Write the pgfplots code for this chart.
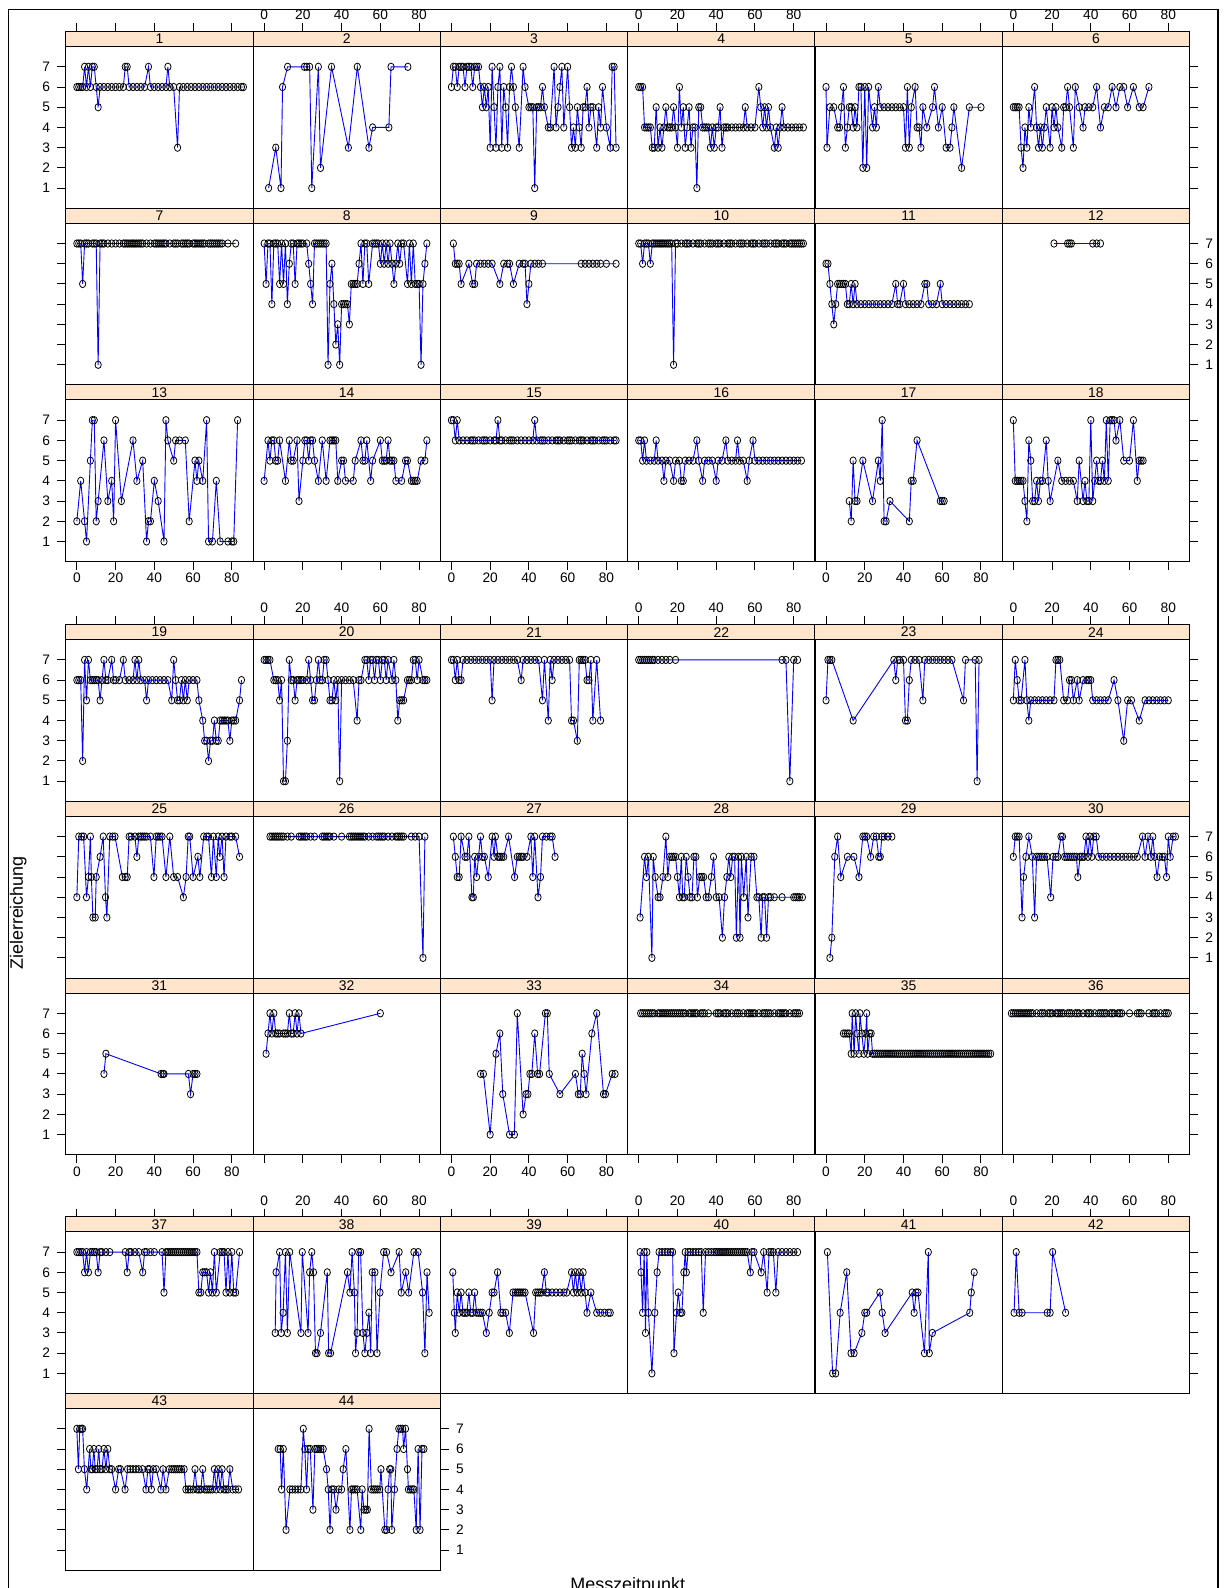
\documentclass[border=0pt]{standalone}
\usepackage{fontspec}
\setmainfont{Liberation Sans}
\usepackage{pgfplots}
\pgfplotsset{compat=1.18}
\definecolor{stripcol}{HTML}{FFE5CC}
\newcommand{\tickfont}{\fontsize{6.9}{7}\selectfont}
\newcommand{\stripfont}{\fontsize{7}{7}\selectfont}
\pgfplotsset{
 panelstyle/.style={
  scale only axis, width=93.65bp, height=88.35bp, anchor=north west,
  xmin=-5.7, xmax=91, ymin=0, ymax=8.742,
  axis on top, tick align=outside, major tick length=4.15bp,
  xtick=\empty, ytick=\empty,
  axis line style={line width=0.5bp},
  tick style={black, line width=0.5bp},
  tick label style={font=\tickfont},
  /pgf/number format/assume math mode=true,
  yticklabel style={inner xsep=3.5bp},
  xticklabel style={inner ysep=1.5bp},
 },
 xtop/.style={xtick={0,20,40,60,80}, xtick pos=right, xticklabel pos=right},
 xtopnl/.style={xtop, xticklabels={,,,,}},
 xbot/.style={xtick={0,20,40,60,80}, xtick pos=left, xticklabel pos=left},
 xbotnl/.style={xbot, xticklabels={,,,,}},
 yl/.style={ytick={1,2,3,4,5,6,7}, ytick pos=left, yticklabel pos=left},
 ylnl/.style={yl, yticklabels={,,,,,,}},
 yr/.style={ytick={1,2,3,4,5,6,7}, ytick pos=right, yticklabel pos=right},
 yrnl/.style={yr, yticklabels={,,,,,,}},
}
\newcommand{\panel}[5]{%
\begin{axis}[panelstyle, at={(#1*0.5bp,-#2*0.5bp)}, #4]
\addplot[color=blue, line width=0.45bp, mark=o, mark size=1.85bp, mark options={draw=black, line width=0.4bp, xscale=0.85, solid}] coordinates {#5};
\draw[fill=stripcol, line width=0.5bp] (axis cs:-5.7,8) rectangle (axis cs:91,8.742);
\node[font=\stripfont, inner sep=0pt] at (axis cs:42.65,8.371) {#3};
\end{axis}}
\begin{document}
\begin{tikzpicture}
\useasboundingbox (0,0) rectangle (612bp,-794bp);
\draw[line width=0.7bp] (8.3*0.5bp,-1620*0.5bp) -- (8.3*0.5bp,-9.3*0.5bp) -- (1218*0.5bp,-9.3*0.5bp) -- (1218*0.5bp,-1620*0.5bp);
\node[rotate=90, font=\fontsize{9}{10}\selectfont] at (18.2*0.5bp,-913*0.5bp) {Zielerreichung};
\node[anchor=north, inner sep=0pt, font=\fontsize{9}{10}\selectfont] at (627.7*0.5bp,-1577*0.5bp) {Messzeitpunkt};
% ---------- Row 1
\panel{65.8}{31.6}{1}{xtopnl,yl}{(0,6)(1,6)(2,6)(3,6)(4,7)(5,6)(6,7)(7,6)(8,7)(9,7)(10,6)(11,5)(12,6)(14,6)(16,6)(18,6)(20,6)(22,6)(24,6)(25,7)(26,7)(27,6)(29,6)(31,6)(33,6)(35,6)(37,7)(38,6)(40,6)(42,6)(44,6)(46,6)(47,7)(48,6)(50,6)(52,3)(53,6)(55,6)(57,6)(59,6)(61,6)(63,6)(65,6)(67,6)(69,6)(71,6)(73,6)(75,6)(77,6)(79,6)(81,6)(83,6)(85,6)(86,6)}
\panel{253.1}{31.6}{2}{xtop}{(2.3,1)(6,3)(8.7,1)(9.5,6)(12.1,7)(20.8,7)(22,7)(23.5,7)(24.6,1)(28,7)(29.1,2)(34.8,7)(43.5,3)(48.1,7)(54.1,3)(56,4)(64.4,4)(65.5,7)(74.2,7)}
\panel{440.4}{31.6}{3}{xtopnl}{(0,6)(1,7)(2,7)(3,6)(4,7)(5,7)(6,7)(7,6)(8,7)(9,7)(10,7)(11,6)(12,7)(13,7)(14,7)(15,6)(16,5)(17,6)(18,5)(19,6)(20,3)(21,7)(22,5)(23,3)(24,6)(25,7)(26,3)(27,6)(28,5)(29,3)(30,6)(31,7)(32,6)(33,5)(35,3)(37,7)(38,6)(40,5)(41,5)(42,5)(43,1)(44,5)(45,5)(46,5)(47,6)(48,5)(50,4)(51,4)(53,7)(54,4)(55,5)(56,6)(57,7)(58,4)(60,7)(61,5)(62,3)(63,4)(64,3)(65,5)(66,4)(67,3)(68,5)(69,5)(70,6)(71,4)(72,5)(73,5)(75,3)(76,5)(77,4)(78,6)(80,4)(82,3)(83,7)(84,7)(85,3)}
\panel{627.7}{31.6}{4}{xtop}{(0,6)(1,6)(2,6)(3,4)(4,4)(5,4)(6,4)(7,3)(8,3)(9,5)(10,3)(11,4)(12,3)(13,4)(14,5)(15,4)(16,4)(17,4)(18,5)(19,4)(20,3)(21,6)(22,4)(23,5)(24,3)(25,4)(26,5)(27,3)(28,4)(29,4)(30,1)(31,5)(32,5)(33,4)(34,4)(35,4)(36,4)(37,3)(38,4)(39,3)(40,4)(41,4)(42,5)(43,3)(44,4)(45,4)(46,4)(48,4)(50,4)(52,4)(54,4)(55,5)(56,4)(58,4)(60,4)(62,6)(63,5)(64,4)(65,5)(66,4)(67,5)(68,4)(70,3)(71,4)(72,3)(73,4)(74,5)(75,4)(77,4)(79,4)(81,4)(83,4)(85,4)}
\panel{815.0}{31.6}{5}{xtopnl}{(0,6)(0.5,3)(2,5)(4,5)(6,4)(7,4)(8,5)(9,6)(10,3)(11,4)(12,5)(13,5)(14,4)(15,5)(16,4)(17,6)(18,6)(19,2)(20,6)(21,2)(22,6)(24,4)(25,5)(26,4)(27,6)(28,5)(30,5)(32,5)(34,5)(36,5)(38,5)(40,5)(41,3)(42,6)(43,3)(44,5)(46,6)(47,4)(48,4)(49,3)(50,5)(52,4)(55,5)(56,6)(58,4)(60,5)(62,3)(64,3)(65,4)(66,5)(70,2)(74,5)(80,5)}
\panel{1002.3}{31.6}{6}{xtop,yrnl}{(0,5)(1,5)(2,5)(3,5)(4,3)(5,2)(6,4)(7,3)(8,5)(9,4)(11,6)(12,4)(13,3)(14,4)(15,3)(16,4)(17,5)(19,3)(20,5)(21,4)(22,5)(23,4)(25,3)(26,5)(27,5)(28,6)(29,5)(31,3)(32,6)(34,5)(36,4)(37,5)(39,5)(41,5)(43,6)(45,4)(47,5)(49,5)(51,6)(53,5)(55,6)(57,6)(59,5)(62,6)(65,5)(67,5)(70,6)}
% ---------- Row 2
\panel{65.8}{208.3}{7}{ylnl}{(0,7)(1,7)(2,7)(3,5)(4,7)(5,7)(6,7)(8,7)(9,7)(10,7)(11,1)(12,7)(13,7)(14,7)(16,7)(18,7)(20,7)(22,7)(24,7)(25,7)(26,7)(27,7)(28,7)(29,7)(30,7)(31,7)(32,7)(33,7)(34,7)(36,7)(38,7)(40,7)(41,7)(42,7)(43,7)(44,7)(45,7)(46,7)(48,7)(50,7)(51,7)(52,7)(54,7)(55,7)(56,7)(57,7)(58,7)(60,7)(61,7)(62,7)(63,7)(64,7)(65,7)(66,7)(68,7)(69,7)(70,7)(71,7)(72,7)(73,7)(74,7)(75,7)(78,7)(82,7)}
\panel{253.1}{208.3}{8}{}{(0,7)(1,5)(2,7)(3,7)(4,4)(5,7)(6,7)(7,7)(8,5)(9,7)(10,5)(11,7)(12,4)(13,6)(14,7)(15,7)(16,5)(17,7)(18,7)(19,7)(20,7)(22,7)(23,6)(24,5)(25,4)(26,7)(27,7)(28,7)(29,7)(30,7)(31,7)(32,7)(33,1)(34,5)(35,6)(36,4)(37,2)(38,3)(39,1)(40,4)(41,4)(42,4)(43,4)(44,3)(45,5)(46,5)(47,5)(48,5)(49,6)(50,7)(51,5)(52,7)(53,7)(54,5)(56,7)(57,7)(58,7)(59,7)(60,6)(61,7)(62,6)(63,7)(64,6)(65,7)(66,6)(67,5)(68,6)(69,7)(70,6)(71,7)(72,7)(74,5)(75,7)(76,5)(77,7)(78,5)(79,5)(80,5)(81,1)(82,5)(83,6)(84,7)}
\panel{440.4}{208.3}{9}{}{(1,7)(2,6)(3,6)(4,6)(5,5)(9,6)(11,5)(12,5)(13,6)(15,6)(17,6)(19,6)(21,6)(25,5)(27,6)(29,6)(30,6)(32,5)(35,6)(37,6)(38,6)(39,4)(40,5)(41,6)(43,6)(45,6)(47,6)(67,6)(69,6)(71,6)(73,6)(75,6)(77,6)(80,6)(85,6)}
\panel{627.7}{208.3}{10}{}{(0,7)(1,7)(2,6)(3,7)(4,7)(5,7)(6,6)(7,7)(8,7)(9,7)(10,7)(11,7)(12,7)(13,7)(14,7)(15,7)(16,7)(17,7)(18,1)(19,7)(20,7)(22,7)(24,7)(25,7)(26,7)(28,7)(30,7)(31,7)(32,7)(34,7)(36,7)(37,7)(38,7)(40,7)(41,7)(42,7)(44,7)(46,7)(47,7)(48,7)(50,7)(52,7)(53,7)(54,7)(56,7)(58,7)(59,7)(60,7)(62,7)(64,7)(65,7)(66,7)(68,7)(70,7)(71,7)(72,7)(74,7)(75,7)(76,7)(78,7)(79,7)(80,7)(81,7)(82,7)(83,7)(84,7)(85,7)}
\panel{815.0}{208.3}{11}{}{(0,6)(1,6)(2,5)(3,4)(4,3)(5,4)(6,5)(7,5)(8,5)(9,5)(10,5)(11,4)(12,4)(13,5)(14,4)(15,5)(16,4)(18,4)(20,4)(22,4)(24,4)(26,4)(28,4)(30,4)(32,4)(34,4)(36,5)(37,4)(38,4)(40,5)(41,4)(43,4)(45,4)(47,4)(49,4)(51,5)(52,5)(53,4)(55,4)(57,4)(59,5)(60,4)(62,4)(64,4)(66,4)(68,4)(70,4)(72,4)(74,4)}
\panel{1002.3}{208.3}{12}{yr}{(21,7)(28,7)(29,7)(30,7)(41,7)(43,7)(45,7)}
% ---------- Row 3
\panel{65.8}{385.0}{13}{xbot,yl}{(0,2)(2,4)(4,2)(5,1)(7,5)(8,7)(9,7)(10,2)(11,3)(14,6)(16,3)(18,4)(19,2)(20,7)(23,3)(29,6)(31,4)(34,5)(36,1)(37,2)(38,2)(40,4)(42,3)(45,1)(46,7)(47,6)(50,5)(51,6)(53,6)(56,6)(58,2)(61,5)(62,4)(63,5)(65,4)(67,7)(68,1)(70,1)(72,4)(74,1)(78,1)(80,1)(81,1)(83,7)}
\panel{253.1}{385.0}{14}{xbotnl}{(0,4)(2,6)(3,5)(4,6)(5,6)(6,5)(7,5)(8,6)(11,4)(13,6)(14,5)(15,5)(17,6)(18,3)(20,5)(21,6)(22,6)(23,5)(24,6)(25,6)(26,5)(28,4)(30,6)(32,4)(34,6)(35,6)(36,6)(37,6)(38,4)(40,5)(41,5)(42,4)(46,4)(47,5)(50,6)(51,5)(52,5)(53,6)(55,4)(56,5)(60,6)(61,5)(62,5)(63,5)(64,6)(65,5)(66,5)(67,5)(68,4)(71,4)(73,5)(74,5)(76,4)(77,4)(78,4)(79,4)(81,5)(83,5)(84,6)}
\panel{440.4}{385.0}{15}{xbot}{(0,7)(1,7)(2,6)(3,7)(4,6)(6,6)(8,6)(10,6)(11,6)(12,6)(14,6)(16,6)(17,6)(18,6)(20,6)(22,6)(23,6)(24,7)(25,6)(26,6)(28,6)(30,6)(31,6)(32,6)(34,6)(36,6)(38,6)(40,6)(42,6)(43,7)(44,6)(46,6)(47,6)(48,6)(50,6)(52,6)(54,6)(55,6)(56,6)(58,6)(60,6)(61,6)(62,6)(64,6)(66,6)(67,6)(68,6)(70,6)(72,6)(73,6)(74,6)(76,6)(78,6)(79,6)(80,6)(82,6)(84,6)(85,6)}
\panel{627.7}{385.0}{16}{xbotnl}{(0,6)(1,6)(2,5)(3,6)(4,5)(6,5)(8,5)(9,6)(10,5)(12,5)(13,4)(14,5)(16,5)(18,4)(19,5)(21,5)(22,4)(23,4)(24,5)(26,5)(28,5)(30,6)(31,5)(33,4)(34,5)(36,5)(38,5)(40,4)(41,5)(43,5)(45,6)(46,5)(48,5)(50,5)(51,6)(52,5)(54,5)(56,4)(57,5)(59,6)(60,5)(62,5)(64,5)(66,5)(68,5)(70,5)(72,5)(74,5)(76,5)(78,5)(80,5)(82,5)(84,5)}
\panel{815.0}{385.0}{17}{xbot}{(12,3)(13,2)(14,5)(15,3)(16,3)(19,5)(24,3)(27,5)(28,4)(29,7)(30,2)(31,2)(33,3)(43,2)(44,4)(45,4)(47,6)(59,3)(60,3)(61,3)}
\panel{1002.3}{385.0}{18}{xbotnl,yrnl}{(0,7)(1,4)(2,4)(3,4)(4,4)(5,4)(6,3)(7,2)(8,6)(9,5)(10,3)(11,3)(12,4)(13,3)(14,4)(15,4)(17,6)(18,4)(19,3)(23,5)(25,4)(27,4)(29,4)(31,4)(33,3)(34,5)(36,3)(37,4)(38,3)(39,3)(40,7)(41,3)(42,4)(43,5)(44,4)(45,4)(46,5)(47,4)(48,7)(49,4)(50,7)(51,7)(52,7)(53,6)(55,7)(57,5)(60,5)(62,7)(64,4)(65,5)(66,5)(67,5)}
% ---------- Row 4
\panel{65.8}{624.7}{19}{xtopnl,yl}{(0,6)(1,6)(2,6)(3,2)(4,7)(5,5)(6,7)(7,6)(8,6)(9,6)(10,6)(11,6)(12,5)(13,6)(14,7)(15,6)(16,6)(18,7)(19,6)(20,6)(22,6)(24,7)(25,6)(27,6)(29,6)(30,7)(31,6)(32,7)(33,6)(35,6)(36,5)(37,6)(39,6)(41,6)(43,6)(45,6)(47,6)(49,5)(50,7)(51,6)(52,5)(53,5)(54,6)(55,5)(56,6)(57,5)(58,6)(60,6)(62,6)(63,5)(65,4)(66,3)(67,3)(68,2)(69,3)(70,3)(71,4)(72,3)(73,3)(74,4)(75,4)(76,4)(77,4)(78,4)(79,3)(80,4)(81,4)(82,4)(84,5)(85,6)}
\panel{253.1}{624.7}{20}{xtop}{(0,7)(1,7)(2,7)(3,7)(5,6)(6,6)(7,6)(8,5)(9,6)(10,1)(11,1)(12,3)(13,7)(14,6)(15,6)(16,5)(17,6)(18,6)(19,6)(20,6)(22,6)(23,7)(24,6)(25,5)(26,5)(27,6)(28,7)(29,6)(30,6)(31,7)(32,7)(33,6)(34,5)(35,5)(36,6)(37,5)(38,6)(39,1)(40,6)(42,6)(44,6)(46,6)(48,4)(49,6)(50,6)(52,7)(53,7)(54,6)(55,7)(56,7)(57,6)(58,7)(59,7)(60,6)(61,7)(62,7)(63,6)(64,7)(66,6)(67,7)(68,6)(69,4)(70,5)(71,5)(72,5)(74,6)(75,6)(76,6)(77,7)(78,7)(79,6)(80,7)(82,6)(83,6)(84,6)}
\panel{440.4}{624.7}{21}{xtopnl}{(0,7)(1,7)(2,6)(3,7)(4,6)(5,6)(6,7)(8,7)(10,7)(12,7)(14,7)(16,7)(18,7)(20,7)(21,5)(22,7)(24,7)(26,7)(28,7)(30,7)(32,7)(34,7)(36,6)(37,7)(39,7)(41,7)(43,7)(45,7)(47,5)(48,7)(50,4)(51,7)(52,6)(53,7)(55,7)(57,7)(59,7)(61,7)(62,4)(63,4)(65,3)(66,7)(67,7)(68,7)(69,7)(70,6)(71,6)(72,7)(73,4)(75,7)(77,4)}
\panel{627.7}{624.7}{22}{xtop}{(0,7)(1,7)(2,7)(3,7)(4,7)(5,7)(6,7)(7,7)(8,7)(10,7)(12,7)(14,7)(16,7)(19,7)(74,7)(76,7)(78,1)(80,7)(82,7)}
\panel{815.0}{624.7}{23}{xtopnl}{(0,5)(1,7)(2,7)(3,7)(14,4)(35,7)(36,6)(37,7)(38,7)(40,7)(41,4)(42,4)(43,6)(44,7)(46,7)(48,7)(50,5)(51,7)(53,7)(55,7)(57,7)(59,7)(61,7)(63,7)(65,7)(71,5)(72,7)(77,7)(78,1)(79,7)}
\panel{1002.3}{624.7}{24}{xtop,yrnl}{(0,5)(1,7)(2,6)(3,5)(4,5)(6,7)(7,5)(8,4)(9,5)(11,5)(13,5)(15,5)(17,5)(19,5)(21,5)(22,7)(23,7)(24,7)(26,5)(28,5)(29,6)(30,6)(31,5)(33,6)(34,5)(36,6)(38,6)(39,6)(40,6)(41,5)(43,5)(45,5)(47,5)(49,5)(52,6)(54,5)(57,3)(59,5)(61,5)(65,4)(68,5)(70,5)(72,5)(74,5)(76,5)(78,5)(80,5)}
% ---------- Row 5
\panel{65.8}{801.4}{25}{ylnl}{(0,4)(1,7)(2.5,7)(3.5,7)(5,4)(6,5)(7,7)(7.5,5)(8.3,3)(9.5,3)(10,5)(12,6)(13.6,7)(14.8,4)(15.5,3)(17,7)(18.5,7)(19.7,7)(23.5,5)(25,5)(26,5)(27,7)(28,7)(30,7)(31,6)(32,7)(33,7)(34,7)(35,7)(36,7)(38,7)(39.8,5)(41,7)(42,7)(43,7)(44,7)(46,5)(48,7)(50,5)(52,5)(55,4)(56.4,5)(57.5,7)(58.3,7)(60,5)(62.5,6)(63.5,5)(65.5,7)(67,7)(68,7)(69.5,5)(70.5,7)(72,5)(73,7)(73.8,6)(75,7)(76,5)(77,7)(79,7)(80,7)(82,7)(84,6)}
\panel{253.1}{801.4}{26}{}{(3,7)(4,7)(5,7)(6,7)(7,7)(8,7)(9,7)(10,7)(12,7)(14,7)(18,7)(19,7)(20,7)(21,7)(22,7)(24,7)(26,7)(30,7)(31,7)(32,7)(33,7)(34,7)(36,7)(40,7)(44,7)(45,7)(46,7)(47,7)(48,7)(49,7)(50,7)(51,7)(52,7)(54,7)(56,7)(58,7)(59,7)(60,7)(61,7)(62,7)(64,7)(66,7)(68,7)(69,7)(70,7)(71,7)(72,7)(76,7)(78,7)(80,7)(82,1)(83,7)}
\panel{440.4}{801.4}{27}{}{(1,7)(2,6)(3,5)(4,5)(5,7)(7,6)(8,6)(9,7)(10.6,4)(11.3,4)(12,6)(13,5)(14,6)(15,7)(16,6)(17,6)(19,5)(21,7)(22,6)(22.7,7)(24,6)(25,6)(26,6)(27,6)(29.5,7)(32.6,5)(34,6)(35,6)(36,6)(37,6)(39,6)(41,7)(42,5)(43,7)(44.7,4)(46,5)(47,7)(49,7)(51,7)(52,7)(53.5,6)}
\panel{627.7}{801.4}{28}{}{(0.7,3)(3,6)(4,5)(5,6)(6.8,1)(7.5,6)(8.5,5)(10,4)(11,4)(12.5,5)(14,7)(15,5)(16,6)(17,6)(18,6)(19,6)(20,5)(21,4)(22,6)(22.7,4)(23.5,4)(24.5,6)(25.5,5)(26.5,4)(27.5,4)(28.5,6)(29.5,6)(30.3,4)(31.5,5)(32.5,5)(33.5,5)(34.8,4)(36,4)(37.5,5)(38.6,6)(40,4)(41.5,4)(43.2,2)(44.3,4)(45.5,5)(46.5,6)(47.5,5)(48.5,6)(49.5,6)(50.4,2)(51.5,6)(52.3,2)(53,6)(54.2,4)(55.5,6)(56.4,3)(58,6)(59.5,6)(61,4)(62,4)(63.2,2)(64,4)(65,4)(66,2)(67,4)(68,4)(70,4)(74,4)(80,4)(81,4)(82,4)(83,4)(84.5,4)}
\panel{815.0}{801.4}{29}{}{(2,1)(3,2)(4.5,6)(6,7)(7.6,5)(11,6)(14.4,6)(17,5)(19,7)(20,7)(21,7)(23,6)(24.6,7)(26,7)(27.2,6)(28,6)(28.8,7)(30,7)(32,7)(34,7)}
\panel{1002.3}{801.4}{30}{yr}{(0,6)(1,7)(2,7)(3,7)(4.5,3)(5.3,5)(6.5,6)(8,7)(9.8,6)(11,3)(12,6)(13,6)(14,6)(15,6)(16,6)(17.4,6)(19.3,4)(20.5,6)(22,6)(23,6)(24.6,7)(25.4,7)(26.5,6)(27.5,6)(28.5,6)(29.5,6)(30.5,6)(31.5,6)(32.6,6)(33.3,5)(34.5,6)(35.5,6)(36.5,6)(37.5,7)(38.5,6)(39.5,7)(40.5,6)(41.5,7)(42.8,7)(44,6)(46,6)(48,6)(50,6)(52,6)(54,6)(56,6)(58,6)(60,6)(62,6)(64,6)(66.7,7)(68,6)(69.5,7)(71,6)(72,7)(73,6)(74.2,5)(75.5,6)(77,6)(78,6)(79.1,5)(80,7)(81,6)(82.5,7)(83.7,7)}
% ---------- Row 6
\panel{65.8}{978.1}{31}{xbot,yl}{(14,4)(15,5)(43.5,4)(44.5,4)(45,4)(57.6,4)(58.7,3)(60,4)(61,4)(62,4)}
\panel{253.1}{978.1}{32}{xbotnl}{(1,5)(2,6)(3,7)(4,6)(5,7)(6,6)(7,6)(8,6)(10,6)(11,6)(12,6)(13,7)(14,6)(15,6)(16,7)(17,6)(18,7)(19,6)(60,7)}
\panel{440.4}{978.1}{33}{xbot}{(15,4)(16.5,4)(20,1)(23,5)(25,6)(26.5,3)(30,1)(32.5,1)(34,7)(37,2)(38.5,3)(39.5,3)(40.5,4)(41.5,4)(43,6)(44.5,4)(45.5,4)(48.5,7)(49.5,7)(50.5,4)(56,3)(64,4)(65.5,3)(66.5,3)(67.5,5)(68.5,4)(69.5,3)(72.5,6)(75,7)(78.5,3)(79.5,3)(83,4)(84.5,4)}
\panel{627.7}{978.1}{34}{xbotnl}{(1,7)(2,7)(3,7)(4,7)(5,7)(6,7)(7,7)(8,7)(10,7)(11,7)(12,7)(13,7)(14,7)(15,7)(16,7)(17,7)(18,7)(19,7)(20,7)(21,7)(22,7)(23,7)(24,7)(26,7)(27,7)(28,7)(29,7)(30,7)(32,7)(33,7)(34,7)(36,7)(40,7)(41,7)(42,7)(44,7)(45,7)(46,7)(48,7)(50,7)(51,7)(52,7)(54,7)(56,7)(57,7)(58,7)(59,7)(60,7)(62,7)(64,7)(65,7)(66,7)(67,7)(68,7)(70,7)(72,7)(73,7)(74,7)(75,7)(76,7)(78,7)(80,7)(81,7)(82,7)(83,7)}
\panel{815.0}{978.1}{35}{xbot}{(9,6)(10,6)(11,6)(12,6)(13,5)(13.5,7)(14.5,5)(15.3,7)(16,6)(17,5)(17.5,7)(18.5,6)(19.5,5)(20.5,6)(21,7)(21.5,5)(22.5,6)(23.3,6)(24,5)(25,5)(26,5)(27,5)(28,5)(29,5)(30,5)(31,5)(32,5)(33,5)(34,5)(35,5)(36,5)(37,5)(38,5)(39,5)(40,5)(41,5)(42,5)(43,5)(44,5)(45,5)(46,5)(47,5)(48,5)(49,5)(50,5)(51,5)(52,5)(53,5)(54,5)(55,5)(56,5)(57,5)(58,5)(59,5)(60,5)(61,5)(62,5)(63,5)(64,5)(65,5)(66,5)(67,5)(68,5)(69,5)(70,5)(71,5)(72,5)(73,5)(74,5)(75,5)(76,5)(77,5)(78,5)(79,5)(80,5)(81,5)(82,5)(83,5)(84,5)(85,5)}
\panel{1002.3}{978.1}{36}{xbotnl,yrnl}{(-1,7)(0,7)(1,7)(2,7)(3,7)(4,7)(5,7)(6,7)(7,7)(8,7)(9,7)(10,7)(12,7)(14,7)(15,7)(16,7)(18,7)(19,7)(20,7)(22,7)(23,7)(24,7)(25,7)(26,7)(28,7)(29,7)(30,7)(32,7)(33,7)(34,7)(36,7)(38,7)(39,7)(40,7)(42,7)(44,7)(45,7)(46,7)(47,7)(48,7)(50,7)(51,7)(52,7)(54,7)(55,7)(56,7)(60,7)(64,7)(65,7)(66,7)(70,7)(72,7)(73,7)(74,7)(76,7)(78,7)(79,7)(80,7)}
% ---------- Row 7
\panel{65.8}{1216.9}{37}{xtopnl,yl}{(0,7)(1,7)(2,7)(3,7)(4,6)(5,7)(6,6)(7,7)(8,7)(9,7)(10,7)(11,6)(12,7)(13,7)(15,7)(17,7)(25,7)(26,6)(27,7)(28,7)(30,7)(32,7)(34,6)(35,7)(36,7)(38,7)(40,7)(44,7)(45,5)(46,7)(47,7)(48,7)(49,7)(50,7)(51,7)(52,7)(53,7)(54,7)(55,7)(56,7)(57,7)(58,7)(59,7)(60,7)(61,7)(62,7)(63,5)(64,5)(65,6)(66,6)(67,6)(68,5)(69,6)(70,5)(71,7)(72,5)(74,7)(75,7)(76,7)(77,5)(78,7)(79,5)(80,7)(81,5)(82,5)(84,7)}
\panel{253.1}{1216.9}{38}{xtop}{(5.7,3)(6.2,6)(8,7)(8.8,3)(9.8,4)(11,7)(12,3)(13.2,7)(19,3)(19.7,7)(22.7,3)(23.5,6)(24.6,7)(25.5,6)(26.5,2)(27.3,2)(29.1,3)(32.6,6)(33.3,2)(34.3,2)(43,6)(44.3,5)(45.4,7)(46.6,5)(47.2,2)(48,3)(48.8,7)(49.8,7)(51,3)(52,2)(53,3)(54.1,4)(55,2)(55.8,6)(57.2,6)(58.3,2)(59.8,5)(61.7,7)(63.2,7)(65.5,6)(69.7,7)(70.8,5)(73.1,6)(74.6,5)(77.3,7)(79.5,7)(81.8,5)(83,2)(84.1,6)(85.2,4)}
\panel{440.4}{1216.9}{39}{xtopnl}{(0.7,6)(1.5,4)(2,3)(3,5)(4,4)(5,5)(6,4)(7,4)(8,4)(9,5)(10,4)(11,4)(12,5)(13,4)(14,4)(15,4)(16,4)(18,3)(19.5,4)(21,5)(22,5)(23.8,6)(25.5,4)(26.5,4)(28,4)(29.9,3)(31.8,5)(33,5)(34,5)(35,5)(36,5)(37,5)(38,5)(42.4,3)(43.5,5)(44.5,5)(45.5,5)(46.5,5)(48,6)(49,5)(50,5)(52,5)(54,5)(56,5)(58,5)(59.5,5)(62,6)(63,5)(64,6)(65,5)(66,6)(67,5)(68,6)(69,5)(70,4)(72,5)(75,4)(77,4)(79,4)(81,4)(82,4)}
\panel{627.7}{1216.9}{40}{xtop}{(0.7,7)(1.2,6)(2,4)(2.8,7)(3.5,3)(4.2,7)(5,4)(6.8,1)(8.3,4)(9.5,6)(10.5,7)(12,7)(13.5,7)(15,7)(16.5,7)(17.5,7)(18.2,2)(19.5,4)(20.4,5)(21.5,4)(22.3,4)(23.3,6)(24,7)(24.6,6)(25.5,7)(26.5,7)(28,7)(29.5,7)(31,7)(32.3,7)(33.3,4)(34.5,7)(36,7)(37.5,7)(39,7)(40,7)(41,7)(42,7)(43,7)(44,7)(45,7)(46,7)(47,7)(48,7)(49,7)(50,7)(51,7)(52,7)(53,7)(54,7)(55,7)(56,7)(57.6,6)(58.5,7)(59.5,7)(63.2,6)(64.5,7)(66.3,5)(67.3,7)(68.3,7)(69.5,7)(70.8,5)(72,7)(74,7)(76,7)(78,7)(80,7)(82,7)}
\panel{815.0}{1216.9}{41}{xtopnl}{(0.7,7)(3.4,1)(5,1)(7.3,4)(10.7,6)(12.9,2)(14.5,2)(18.5,3)(20,4)(21,4)(27.8,5)(29,4)(30.5,3)(44.5,5)(45.5,4)(46.5,5)(47.5,5)(50.8,2)(52.8,7)(53.3,2)(54.9,3)(74.2,4)(75,5)(76.5,6)}
\panel{1002.3}{1216.9}{42}{xtop,yrnl}{(0.4,4)(1.5,7)(3,4)(4.5,4)(17.5,4)(19,4)(20.3,7)(27,4)}
% ---------- Row 8
\panel{65.8}{1393.6}{43}{ylnl}{(0,7)(0.8,5)(1.5,7)(2.3,7)(3,7)(3.9,5)(5.1,4)(6.6,6)(7.3,5)(8,5)(8.8,6)(9.5,5)(10.5,5)(11.3,6)(12,5)(13,5)(14,6)(15,5)(16,6)(17,5)(18,5)(20,4)(21.6,5)(22.5,5)(24.9,4)(26.2,5)(27.5,5)(29,5)(30.5,5)(32,5)(33.9,5)(35.7,4)(36.7,5)(37.5,5)(38.5,4)(39.5,5)(41,5)(43.4,4)(44.5,5)(46,4)(47.7,5)(49,5)(50,5)(51,5)(52,5)(53,5)(54,5)(55.4,5)(56.3,4)(57.5,4)(58.5,4)(60,4)(61,5)(62,4)(63,4)(64,4)(65,5)(66,4)(67,4)(68,4)(69,4)(70,4)(71,5)(72,4)(73,5)(74,4)(75,5)(76,4)(77,4)(78,4)(79,5)(80.5,4)(82,4)(83.5,4)}
\panel{253.1}{1393.6}{44}{yr}{(7.3,6)(8.3,6)(9,4)(9.9,6)(11.3,2)(13.3,4)(14.5,4)(16,4)(17.5,4)(19,4)(20.2,7)(21,6)(21.9,4)(22.8,6)(23.8,6)(25.2,3)(26.2,6)(27.2,6)(28.2,6)(29.3,6)(30.5,6)(32.2,5)(33.1,4)(34,2)(35,4)(36,4)(37.1,3)(38.5,4)(40,4)(40.8,5)(42.2,6)(44.3,2)(45.1,4)(46,4)(47,4)(48,4)(49.9,2)(50.6,4)(51.5,3)(52.5,3)(53.3,3)(54.2,7)(55.4,4)(56.5,4)(57.5,4)(58.5,4)(59.7,4)(60.3,5)(62.3,2)(63.2,2)(64,4)(64.8,5)(65.4,5)(65.9,2)(67.3,4)(68.6,6)(69.5,7)(70.5,7)(71.5,7)(72,6)(73,7)(74,5)(74.5,4)(75.5,4)(76.5,4)(77.3,4)(78.5,2)(79.5,6)(80.5,2)(81.5,6)(82.5,6)}
\end{tikzpicture}
\end{document}
